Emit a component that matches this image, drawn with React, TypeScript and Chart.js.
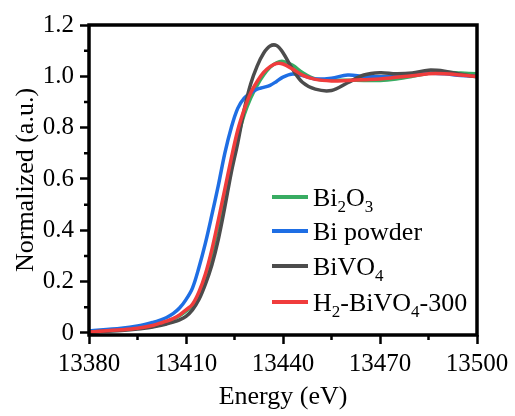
import React, { useEffect, useRef } from "react";
import Chart from "chart.js/auto";

const energies = [13380, 13390, 13395, 13400, 13402, 13404, 13406, 13408, 13410, 13412, 13414, 13416, 13418, 13420, 13422, 13424, 13426, 13428, 13430, 13432, 13434, 13436, 13438, 13440, 13443, 13446, 13450, 13455, 13460, 13465, 13470, 13475, 13480, 13485, 13490, 13495, 13500];

const bi2o3 = [0.004, 0.012, 0.018, 0.03, 0.037, 0.045, 0.054, 0.067, 0.085, 0.107, 0.152, 0.22, 0.31, 0.42, 0.535, 0.65, 0.76, 0.85, 0.915, 0.965, 1.005, 1.035, 1.053, 1.058, 1.043, 1.015, 0.99, 0.985, 0.985, 0.984, 0.984, 0.99, 1.0, 1.012, 1.016, 1.013, 1.01];
const biPowder = [0.008, 0.018, 0.027, 0.042, 0.05, 0.06, 0.075, 0.097, 0.13, 0.175, 0.255, 0.35, 0.46, 0.575, 0.7, 0.8, 0.875, 0.915, 0.935, 0.95, 0.957, 0.965, 0.98, 0.997, 1.009, 1.003, 0.99, 0.993, 1.005, 1.0, 0.998, 1.0, 1.006, 1.012, 1.01, 1.003, 1.0];
const bivo4 = [0.004, 0.01, 0.015, 0.024, 0.029, 0.035, 0.042, 0.051, 0.065, 0.09, 0.13, 0.19, 0.265, 0.365, 0.49, 0.625, 0.74, 0.87, 0.97, 1.04, 1.09, 1.118, 1.12, 1.092, 1.027, 0.977, 0.95, 0.945, 0.975, 1.005, 1.014, 1.01, 1.013, 1.024, 1.02, 1.008, 0.998];
const h2bivo4 = [0.004, 0.012, 0.018, 0.03, 0.038, 0.046, 0.056, 0.07, 0.09, 0.112, 0.16, 0.23, 0.325, 0.44, 0.56, 0.68, 0.79, 0.87, 0.935, 0.98, 1.015, 1.038, 1.05, 1.048, 1.028, 1.005, 0.988, 0.982, 0.984, 0.987, 0.99, 0.996, 1.002, 1.01, 1.01, 1.005, 0.999];

const xTicks = [13380, 13410, 13440, 13470, 13500];
const xMinorTicks = [13395, 13425, 13455, 13485];
const yTicks = [0, 0.2, 0.4, 0.6, 0.8, 1.0, 1.2];
const yMinorTicks = [0.1, 0.3, 0.5, 0.7, 0.9, 1.1];

// legend labels: [text, isSubscript]
const legendBi2O3: [string, boolean][] = [["Bi", false], ["2", true], ["O", false], ["3", true]];
const legendBiPowder: [string, boolean][] = [["Bi powder", false]];
const legendBiVO4: [string, boolean][] = [["BiVO", false], ["4", true]];
const legendH2: [string, boolean][] = [["H", false], ["2", true], ["-BiVO", false], ["4", true], ["-300", false]];

const colors = {
  green: "rgb(56,172,98)",
  blue: "rgb(30,110,228)",
  gray: "rgb(76,76,76)",
  red: "rgb(240,60,60)",
};

const SERIF = '"Liberation Serif", "Times New Roman", serif';

const legendItems = [
  { parts: legendBi2O3, color: colors.green },
  { parts: legendBiPowder, color: colors.blue },
  { parts: legendBiVO4, color: colors.gray },
  { parts: legendH2, color: colors.red },
];

const decorPlugin = {
  id: "decor",
  afterDraw(chart: any) {
    const { ctx, chartArea: a, scales } = chart;
    const x = scales.x;
    const y = scales.y;
    ctx.save();
    ctx.strokeStyle = "#000";
    ctx.lineWidth = 3.5;
    ctx.strokeRect(a.left, a.top, a.right - a.left, a.bottom - a.top);
    ctx.lineWidth = 2.5;
    ctx.beginPath();
    for (const v of yMinorTicks) {
      const py = y.getPixelForValue(v);
      ctx.moveTo(a.left - 5, py);
      ctx.lineTo(a.left, py);
    }
    for (const v of xMinorTicks) {
      const px = x.getPixelForValue(v);
      ctx.moveTo(px, a.bottom);
      ctx.lineTo(px, a.bottom + 5);
    }
    ctx.stroke();

    // legend
    const lx0 = 272;
    const lx1 = 308;
    const tx = 313;
    const ys = [197, 231, 266, 302];
    legendItems.forEach((it, i) => {
      const ly = ys[i];
      ctx.strokeStyle = it.color;
      ctx.lineWidth = 4;
      ctx.beginPath();
      ctx.moveTo(lx0, ly);
      ctx.lineTo(lx1, ly);
      ctx.stroke();
      let cx = tx;
      ctx.fillStyle = "#000";
      ctx.textBaseline = "alphabetic";
      ctx.textAlign = "left";
      for (const [t, sub] of it.parts) {
        if (sub) {
          ctx.font = `17px ${SERIF}`;
          ctx.fillText(t, cx, ly + 15);
        } else {
          ctx.font = `26px ${SERIF}`;
          ctx.fillText(t, cx, ly + 9);
        }
        cx += ctx.measureText(t).width;
      }
    });
    ctx.restore();
  },
};

export default function App() {
  const ref = useRef<HTMLCanvasElement | null>(null);
  useEffect(() => {
    document.body.style.margin = "0";
    const canvas = ref.current;
    if (!canvas) return;
    const mk = (label: string, data: number[], color: string, order: number) => ({
      label,
      data: energies.map((e, i) => ({ x: e, y: data[i] })),
      borderColor: color,
      backgroundColor: color,
      borderWidth: 3.5,
      pointRadius: 0,
      tension: 0.35,
      order,
    });
    const chart = new Chart(canvas, {
      type: "line",
      data: {
        datasets: [
          mk("Bi2O3", bi2o3, colors.green, 3),
          mk("Bi powder", biPowder, colors.blue, 2),
          mk("BiVO4", bivo4, colors.gray, 1),
          mk("H2-BiVO4-300", h2bivo4, colors.red, 0),
        ],
      },
      options: {
        responsive: false,
        animation: false,
        layout: { padding: { top: 25, right: 38, left: 0, bottom: 0 } },
        plugins: { legend: { display: false }, tooltip: { enabled: false } },
        scales: {
          x: {
            type: "linear",
            min: 13380,
            max: 13500,
            afterBuildTicks: (s: any) => {
              s.ticks = xTicks.map((v) => ({ value: v }));
            },
            afterFit: (s: any) => {
              s.height = 81;
            },
            ticks: {
              color: "#000",
              font: { family: SERIF, size: 25 },
              padding: 5,
              maxRotation: 0,
              callback: (v: any) => String(v),
            },
            grid: { drawOnChartArea: false, drawTicks: true, tickLength: 9, tickWidth: 2.5, tickColor: "#000" },
            border: { display: false },
            title: {
              display: true,
              text: "Energy (eV)",
              color: "#000",
              font: { family: SERIF, size: 26 },
              padding: { top: 0, bottom: 3 },
            },
          },
          y: {
            type: "linear",
            min: -0.008,
            max: 1.2,
            afterBuildTicks: (s: any) => {
              s.ticks = yTicks.map((v) => ({ value: v }));
            },
            afterFit: (s: any) => {
              s.width = 89;
            },
            ticks: {
              color: "#000",
              font: { family: SERIF, size: 25 },
              padding: 6,
              callback: (v: any) => (Math.abs(v) < 1e-9 ? "0" : Number(v).toFixed(1)),
            },
            grid: { drawOnChartArea: false, drawTicks: true, tickLength: 9, tickWidth: 2.5, tickColor: "#000" },
            border: { display: false },
            title: {
              display: true,
              text: "Normalized (a.u.)",
              color: "#000",
              font: { family: SERIF, size: 26 },
              padding: { top: 11, bottom: 0 },
            },
          },
        },
      },
      plugins: [decorPlugin],
    });
    return () => chart.destroy();
  }, []);
  return (
    <div style={{ position: "absolute", left: 0, top: 0, width: 515, height: 416, background: "#fff" }}>
      <canvas ref={ref} width={515} height={416} />
    </div>
  );
}
